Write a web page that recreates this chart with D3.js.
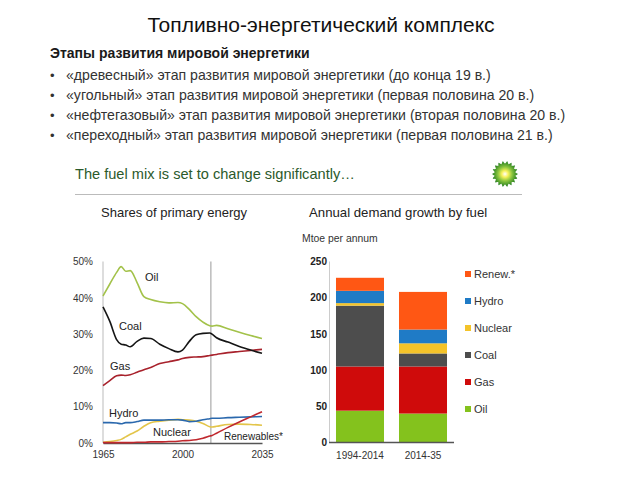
<!DOCTYPE html>
<html><head><meta charset="utf-8">
<script src="https://cdn.jsdelivr.net/npm/d3@7"></script>
<style>
html,body{margin:0;padding:0;background:#fff;}
svg{display:block;font-family:"Liberation Sans",Arial,sans-serif;}
</style></head>
<body>
<svg id="c" width="640" height="480"></svg>
<script>
// ---------- Data ----------
const headerTitle = "Топливно-энергетический комплекс";
const headerSub = "Этапы развития мировой энергетики";
const bullets = [
  "«древесный» этап развития мировой энергетики (до конца 19 в.)",
  "«угольный» этап развития мировой энергетики (первая половина 20 в.)",
  "«нефтегазовый» этап развития мировой энергетики (вторая половина 20 в.)",
  "«переходный» этап развития мировой энергетики (первая половина 21 в.)"
];
const slideTitle = "The fuel mix is set to change significantly…";
const leftTitle = "Shares of primary energy";
const rightTitle = "Annual demand growth by fuel";
const rightUnit = "Mtoe per annum";

const years = [1965,1968,1971,1973,1975,1977,1980,1983,1986,1990,1994,1998,2000,2003,2006,2009,2012,2013,2015,2020,2025,2030,2035];
const oilShare   = [40.5,43.8,47.0,48.6,47.3,47.5,44.2,40.3,39.5,38.9,38.6,38.7,38.4,36.8,34.8,33.3,32.3,32.2,32.4,31.5,30.5,29.6,28.8];
const coalShare  = [37.5,33.5,28.5,27.2,27.0,26.5,28.0,28.9,28.8,27.2,26.0,25.1,25.6,28.0,29.8,30.2,30.3,30.0,29.0,27.8,26.6,25.6,24.7];
const gasShare   = [15.8,17.2,18.5,18.7,18.6,18.8,19.5,20.2,20.8,21.9,22.4,22.9,23.3,23.6,23.7,23.8,24.1,24.2,24.4,24.9,25.2,25.5,25.8];
const hydroShare = [5.6,5.6,5.5,5.3,5.6,5.6,5.9,6.3,6.3,6.3,6.4,6.4,6.3,5.9,6.0,6.4,6.7,6.8,6.8,7.0,7.1,7.2,7.3];
const nuclearShare=[0.2,0.4,0.7,1.0,1.7,2.4,3.3,4.6,5.6,6.0,6.3,6.5,6.4,6.3,6.0,5.4,4.5,4.4,4.6,5.1,5.2,5.1,4.9];
const renewShare = [0.1,0.1,0.1,0.1,0.1,0.1,0.2,0.2,0.3,0.3,0.4,0.5,0.6,0.7,0.9,1.3,1.9,2.1,2.7,4.3,5.8,7.2,8.6];
const lineNames = ["Oil","Coal","Gas","Hydro","Nuclear","Renewables*"];
const projectionYear = 2012.5;
const xTickYears = [1965,2000,2035];
const yTickPct = [0,10,20,30,40,50];

const periods = ["1994-2014","2014-35"];
const fuels = ["Oil","Gas","Coal","Nuclear","Hydro","Renew.*"];
const growthOil     = [44,40];
const growthGas     = [61,65];
const growthCoal    = [84,18];
const growthNuclear = [3.5,14];
const growthHydro   = [17,19];
const growthRenew   = [18,52];
const yTicksMtoe = [0,50,100,150,200,250];

// ---------- Drawing ----------
const svg = d3.select("#c");

// header
svg.append("text").attr("x",321).attr("y",32).attr("text-anchor","middle")
  .attr("font-size",21).attr("fill","#111").text(headerTitle);
svg.append("text").attr("x",50).attr("y",58).attr("font-size",14).attr("font-weight","bold")
  .attr("fill","#1a1a1a").text(headerSub);
bullets.forEach((b,i)=>{
  const y = 79.5 + i*20;
  svg.append("text").attr("x",50).attr("y",y).attr("font-size",13).attr("fill","#333").text("•");
  svg.append("text").attr("x",66).attr("y",y).attr("font-size",14.1).attr("fill","#333").text(b);
});

// slide header
svg.append("text").attr("x",75).attr("y",179).attr("font-size",14.6).attr("fill","#2b5a2b").text(slideTitle);
svg.append("line").attr("x1",75).attr("x2",522).attr("y1",194.5).attr("y2",194.5).attr("stroke","#bbb").attr("stroke-width",1.2);

// BP logo
const defs = svg.append("defs");
const rg = defs.append("radialGradient").attr("id","bpg");
rg.append("stop").attr("offset","0%").attr("stop-color","#ffffff");
rg.append("stop").attr("offset","25%").attr("stop-color","#f8f25a");
rg.append("stop").attr("offset","55%").attr("stop-color","#8cc63f");
rg.append("stop").attr("offset","100%").attr("stop-color","#1f7a1f");
const nPts = 18, cx = 505, cy = 174;
const star = d3.range(nPts*2).map(i=>{
  const a = i*Math.PI/nPts; const r = i%2===0 ? 13 : 10.5;
  return [cx + r*Math.cos(a), cy + r*Math.sin(a)];
});
svg.append("path").attr("d", d3.line().curve(d3.curveCardinalClosed.tension(0.6))(star)).attr("fill","url(#bpg)");

svg.append("text").attr("x",101).attr("y",216.5).attr("font-size",13).attr("fill","#222").text(leftTitle);
svg.append("text").attr("x",309).attr("y",216.5).attr("font-size",13.2).attr("fill","#222").text(rightTitle);
svg.append("text").attr("x",302).attr("y",242).attr("font-size",10.4).attr("fill","#333").text(rightUnit);

// left chart
const xL = d3.scaleLinear().domain([1965,2035]).range([103,262]);
const yL = d3.scaleLinear().domain([0,50]).range([443,261.5]);
svg.append("line").attr("x1",103).attr("x2",103).attr("y1",yL(50)).attr("y2",yL(0)).attr("stroke","#bbb");
svg.append("line").attr("x1",xL(projectionYear)).attr("x2",xL(projectionYear)).attr("y1",yL(50)).attr("y2",yL(0)).attr("stroke","#999");
const yAxL = svg.append("g").attr("transform","translate(103,0)")
  .call(d3.axisLeft(yL).tickValues(yTickPct).tickFormat(d=>d+"%").tickSize(0).tickPadding(10));
yAxL.select(".domain").remove();
yAxL.selectAll("text").attr("font-size",10).attr("fill","#333").attr("font-family","Liberation Sans, Arial, sans-serif");
const xAxL = svg.append("g").attr("transform","translate(0,443)")
  .call(d3.axisBottom(xL).tickValues(xTickYears).tickFormat(d3.format("d")).tickSize(0).tickPadding(8));
xAxL.select(".domain").attr("stroke","#555").attr("stroke-width",1.5);
xAxL.selectAll("text").attr("font-size",10).attr("fill","#333").attr("font-family","Liberation Sans, Arial, sans-serif");

const lineSeries = [
  {name:"Nuclear", v:nuclearShare, c:"#e3c54a"},
  {name:"Hydro", v:hydroShare, c:"#2a68ad"},
  {name:"Renewables*", v:renewShare, c:"#c0282e"},
  {name:"Gas", v:gasShare, c:"#a8222c"},
  {name:"Coal", v:coalShare, c:"#151515"},
  {name:"Oil", v:oilShare, c:"#a3c24a"}
];
const lineGen = d3.line().x((d,i)=>xL(years[i])).y(d=>yL(d)).curve(d3.curveMonotoneX);
lineSeries.forEach(s=>{
  svg.append("path").attr("d",lineGen(s.v)).attr("fill","none").attr("stroke",s.c).attr("stroke-width",1.6);
});
const lineLabels = [
  {t:lineNames[0], x:145, y:281},
  {t:lineNames[1], x:119, y:330},
  {t:lineNames[2], x:110, y:370},
  {t:lineNames[3], x:109, y:417},
  {t:lineNames[4], x:153, y:436},
  {t:lineNames[5], x:224, y:440}
];
lineLabels.forEach(l=>{
  svg.append("text").attr("x",l.x).attr("y",l.y).attr("font-size",l.t.length>8?10:11).attr("fill","#222").text(l.t);
});

// right chart
const xR = d3.scaleBand().domain(periods).range([329,454]).paddingInner(0.238).paddingOuter(0.111);
const yR = d3.scaleLinear().domain([0,250]).range([442.5,261.5]);
const fuelColors = {"Oil":"#84c21d","Gas":"#cf0b0b","Coal":"#4d4d4d","Nuclear":"#f4c329","Hydro":"#1f7bc6","Renew.*":"#ff5714"};
const growthByFuel = [growthOil,growthGas,growthCoal,growthNuclear,growthHydro,growthRenew];
const rows = periods.map((p,i)=>{ const r={period:p}; fuels.forEach((f,j)=>r[f]=growthByFuel[j][i]); return r; });
const stacked = d3.stack().keys(fuels)(rows);
svg.append("g").selectAll("g").data(stacked).join("g").attr("fill",d=>fuelColors[d.key])
  .selectAll("rect").data(d=>d).join("rect")
  .attr("x",d=>xR(d.data.period)).attr("width",xR.bandwidth())
  .attr("y",d=>yR(d[1])).attr("height",d=>yR(d[0])-yR(d[1]));
svg.append("line").attr("x1",329.5).attr("x2",329.5).attr("y1",yR(250)).attr("y2",yR(0)).attr("stroke","#ccc");
const yAxR = svg.append("g").attr("transform","translate(329,0)")
  .call(d3.axisLeft(yR).tickValues(yTicksMtoe).tickSize(0).tickPadding(2));
yAxR.select(".domain").remove();
yAxR.selectAll("text").attr("font-size",10).attr("fill","#222").attr("font-weight","bold").attr("font-family","Liberation Sans, Arial, sans-serif");
const xAxR = svg.append("g").attr("transform","translate(0,442.5)")
  .call(d3.axisBottom(xR).tickSize(0).tickPadding(9));
xAxR.select(".domain").attr("stroke","#555").attr("stroke-width",1.5).attr("d","M329,0H454");
xAxR.selectAll("text").attr("font-size",10).attr("fill","#333").attr("font-family","Liberation Sans, Arial, sans-serif");

// legend (top to bottom: reversed fuel order)
const legendOrder = fuels.slice().reverse();
legendOrder.forEach((f,i)=>{
  const y = 274 + i*27;
  svg.append("rect").attr("x",465).attr("y",y-3).attr("width",6).attr("height",6).attr("fill",fuelColors[f]);
  svg.append("text").attr("x",474).attr("y",y+4).attr("font-size",11).attr("fill","#333").text(f);
});
</script>
</body></html>
